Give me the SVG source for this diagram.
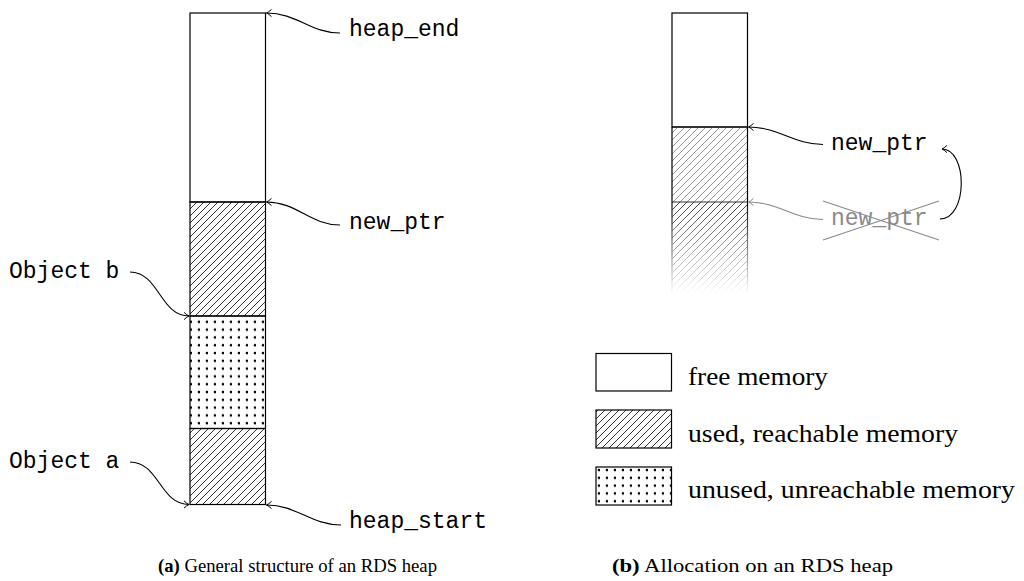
<svg xmlns="http://www.w3.org/2000/svg" width="1024" height="581" viewBox="0 0 1024 581">
  <style>
    .mono { font-family: "Liberation Mono", "DejaVu Sans Mono", monospace; font-size: 23px; fill: #000; }
    .serif { font-family: "Liberation Serif", "DejaVu Serif", serif; font-size: 26px; fill: #000; }
    .cap { font-family: "Liberation Serif", "DejaVu Serif", serif; font-size: 19.5px; fill: #000; }
    .cell { stroke: #000; stroke-width: 1.2; }
    .conn { fill: none; stroke: #000; stroke-width: 1.1; marker-end: url(#tip); }
    .conn-gray { fill: none; stroke: #8a8a8a; stroke-width: 1.1; marker-end: url(#tipGray); }
  </style>
  <defs>
    <!-- north east lines fill -->
    <pattern id="hatch" patternUnits="userSpaceOnUse" width="7" height="7">
      <path d="M-1,8 L8,-1 M-1,1 L1,-1 M6,8 L8,6" stroke="#000" stroke-width="0.8"/>
    </pattern>
    <pattern id="hatchGray" patternUnits="userSpaceOnUse" width="7" height="7">
      <path d="M-1,8 L8,-1 M-1,1 L1,-1 M6,8 L8,6" stroke="#7a7a7a" stroke-width="0.8"/>
    </pattern>
    <!-- dots fill -->
    <pattern id="dots" patternUnits="userSpaceOnUse" width="8" height="7.8">
      <circle cx="7" cy="2" r="1.35" fill="#000"/>
    </pattern>
    <linearGradient id="fadeGrad" gradientUnits="userSpaceOnUse" x1="0" y1="204" x2="0" y2="294">
      <stop offset="0" stop-color="#fff" stop-opacity="0.95"/>
      <stop offset="1" stop-color="#fff" stop-opacity="0"/>
    </linearGradient>
    <mask id="fade" maskUnits="userSpaceOnUse" x="660" y="200" width="100" height="100">
      <rect x="660" y="200" width="100" height="100" fill="url(#fadeGrad)"/>
    </mask>
    <marker id="tip" markerUnits="userSpaceOnUse" viewBox="-8 -6 10 12" refX="0" refY="0" markerWidth="10" markerHeight="12" orient="auto">
      <path d="M-5,-3.6 Q-2,-0.8 0,0 Q-2,0.8 -5,3.6" fill="none" stroke="#000" stroke-width="1"/>
    </marker>
    <marker id="tipGray" markerUnits="userSpaceOnUse" viewBox="-8 -6 10 12" refX="0" refY="0" markerWidth="10" markerHeight="12" orient="auto">
      <path d="M-5,-3.6 Q-2,-0.8 0,0 Q-2,0.8 -5,3.6" fill="none" stroke="#8a8a8a" stroke-width="1"/>
    </marker>
  </defs>

  <rect width="1024" height="581" fill="#fff"/>

  <!-- (a) heap layout -->
  <g id="heap-a">
    <rect class="cell" x="190" y="13" width="75.5" height="189" fill="#fff"/>
    <rect class="cell" x="190" y="202" width="75.5" height="114" fill="url(#hatch)"/>
    <rect class="cell" x="190" y="316" width="75.5" height="112.5" fill="url(#dots)"/>
    <rect class="cell" x="190" y="428.5" width="75.5" height="76" fill="url(#hatch)"/>
  </g>
  <g id="label-heap-end"><text class="mono" x="349" y="36">heap_end</text></g>
  <g id="label-new-ptr-a"><text class="mono" x="349" y="229">new_ptr</text></g>
  <g id="label-heap-start"><text class="mono" x="349" y="528">heap_start</text></g>
  <g id="label-object-b"><text class="mono" x="9" y="278">Object b</text></g>
  <g id="label-object-a"><text class="mono" x="9" y="468">Object a</text></g>

  <!-- (b) allocation -->
  <g id="heap-b">
    <rect class="cell" x="672" y="13" width="75.5" height="114" fill="#fff"/>
    <rect x="672" y="127" width="75.5" height="75" fill="url(#hatchGray)"/>
    <g mask="url(#fade)">
      <rect x="672" y="202" width="75.5" height="92" fill="url(#hatch)"/>
      <path d="M672,202 V294 M747.5,202 V294" stroke="#000" stroke-width="1.2"/>
    </g>
    <path d="M672,127 V202 M747.5,127 V202" stroke="#000" stroke-width="1.2"/>
    <path d="M672,127 H747.5" stroke="#000" stroke-width="1.2"/>
    <path d="M672,202 H747.5" stroke="#333" stroke-width="1.2"/>
  </g>
  <g id="label-new-ptr-b"><text class="mono" x="831" y="150">new_ptr</text></g>
  <g id="label-old-ptr-b">
    <text class="mono" x="831" y="225" style="fill:#8a8a8a">new_ptr</text>
    <path d="M823,201 L939,240 M823,240 L939,201" stroke="#8a8a8a" stroke-width="1.1"/>
  </g>

  <!-- legend -->
  <g id="legend-free">
    <rect class="cell" x="596" y="353.5" width="75.5" height="37.5" fill="#fff"/>
    <text class="serif" x="688" y="385" textLength="140" lengthAdjust="spacingAndGlyphs">free memory</text>
  </g>
  <g id="legend-used">
    <rect class="cell" x="596" y="410" width="75.5" height="38" fill="url(#hatch)"/>
    <text class="serif" x="688" y="442" textLength="270" lengthAdjust="spacingAndGlyphs">used, reachable memory</text>
  </g>
  <g id="legend-unused">
    <rect class="cell" x="596" y="467" width="75.5" height="38" fill="url(#dots)"/>
    <text class="serif" x="688" y="498" textLength="327" lengthAdjust="spacingAndGlyphs">unused, unreachable memory</text>
  </g>

  <!-- connectors -->
  <g id="connectors">
    <path class="conn" d="M340,33 C310,33 297,13 266.5,13"/>
    <path class="conn" d="M340,225 C310,225 297,202 266.5,202"/>
    <path class="conn" d="M341,525 C311,525 297,505 266.5,505"/>
    <path class="conn" d="M130,272 C159,272 160,316 189,316"/>
    <path class="conn" d="M130,462 C159,462 160,504.5 189,504.5"/>
    <path class="conn" d="M823,144.5 C794,144.5 778,127 748.5,127"/>
    <path class="conn-gray" d="M823,219.5 C794,219.5 778,202 748.5,202"/>
    <path class="conn" d="M940,219 C968,219 968,149 942,149"/>
  </g>

  <!-- captions -->
  <g id="caption-a">
    <text class="cap" x="158" y="572" textLength="279" lengthAdjust="spacingAndGlyphs"><tspan font-weight="bold">(a)</tspan> General structure of an RDS heap</text>
  </g>
  <g id="caption-b">
    <text class="cap" x="612" y="572" textLength="281" lengthAdjust="spacingAndGlyphs"><tspan font-weight="bold">(b)</tspan> Allocation on an RDS heap</text>
  </g>
</svg>
